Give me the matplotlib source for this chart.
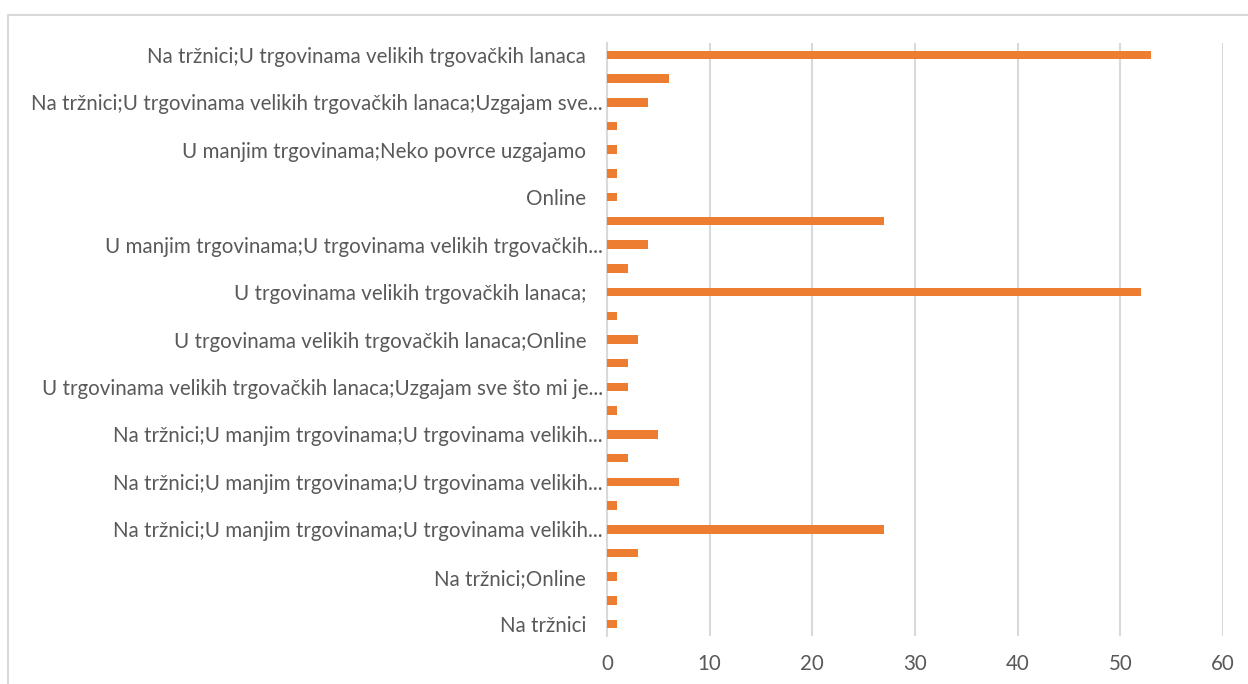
import matplotlib
matplotlib.use("Agg")
import matplotlib.pyplot as plt
from matplotlib.patches import Rectangle

# values from bottom to top (25 categories)
values = [1, 1, 1, 3, 27, 1, 7, 2, 5, 1, 2, 2, 3, 1, 52, 2, 4, 27, 1, 1, 1, 1, 4, 6, 53]
# labels shown on every other category (bottom to top)
labels = [
    "Na tržnici",
    "Na tržnici;Online",
    "Na tržnici;U manjim trgovinama;U trgovinama velikih...",
    "Na tržnici;U manjim trgovinama;U trgovinama velikih...",
    "Na tržnici;U manjim trgovinama;U trgovinama velikih...",
    "U trgovinama velikih trgovačkih lanaca;Uzgajam sve što mi je...",
    "U trgovinama velikih trgovačkih lanaca;Online",
    "U trgovinama velikih trgovačkih lanaca;",
    "U manjim trgovinama;U trgovinama velikih trgovačkih...",
    "Online",
    "U manjim trgovinama;Neko povrce uzgajamo",
    "Na tržnici;U trgovinama velikih trgovačkih lanaca;Uzgajam sve...",
    "Na tržnici;U trgovinama velikih trgovačkih lanaca",
]
xticks = [0, 10, 20, 30, 40, 50, 60]

plt.rcParams['font.family'] = ['Lato', 'DejaVu Sans']

fig = plt.figure(figsize=(12.48, 6.84), dpi=100)
fig.patches.append(Rectangle((8 / 1248, -0.1), 1.2, 1 - 15 / 684 + 0.1,
                             transform=fig.transFigure, fill=False,
                             edgecolor='#d9d9d9', linewidth=1.5))
ax = fig.add_axes([607 / 1248, 1 - 636 / 684, (1223 - 607) / 1248, (636 - 43) / 684])

ypos = list(range(len(values)))
ax.barh(ypos, values, height=0.36, color='#ed7d31', zorder=3)
ax.set_xlim(0, 60)
ax.set_ylim(-0.5, len(values) - 0.5)
ax.set_xticks(xticks)
ax.set_xticklabels([str(t) for t in xticks])
ax.set_yticks(ypos[::2])
ax.set_yticklabels(labels)
ax.grid(axis='x', color='#d9d9d9', linewidth=1.5, zorder=0)
for s in ['top', 'right', 'bottom']:
    ax.spines[s].set_visible(False)
ax.spines['left'].set_color('#d9d9d9')
ax.spines['left'].set_linewidth(1.5)
ax.tick_params(axis='both', length=0, colors='#595959', labelsize=14.8)
ax.tick_params(axis='x', pad=13)
for t, lab in zip(ax.yaxis.get_major_ticks(), labels):
    t.set_pad(3 if lab.endswith('...') else 15)

fig.savefig('out.png', dpi=100)
